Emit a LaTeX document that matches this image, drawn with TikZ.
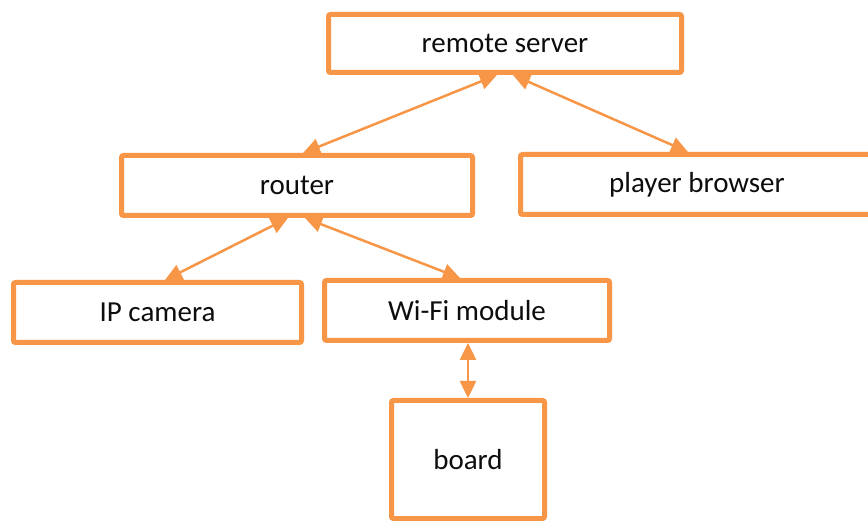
\documentclass[tikz,border=0pt]{standalone}
\usepackage{fontspec}
\setmainfont{Carlito}
\usetikzlibrary{arrows.meta,calc}
\definecolor{boxorange}{HTML}{F79646}
\definecolor{labelblack}{HTML}{0D0D0D}
\tikzset{
  unitbox/.style={draw=boxorange, line width=5pt, rounded corners=2pt, fill=white,
    inner sep=0pt, outer sep=2.5pt, text=labelblack, font=\fontsize{29}{33}\selectfont},
  link/.style={draw=boxorange, line width=2.5pt,
    {Triangle[length=17pt,width=16pt]}-{Triangle[length=17pt,width=16pt]}}
}
\begin{document}
\begin{tikzpicture}[x=1pt,y=-1pt]
  \useasboundingbox (0,0) rectangle (868,521);
  \clip (0,0) rectangle (868,521);
  \fill[white] (0,0) rectangle (868,521);

  % components of the streaming setup
  \node[unitbox, minimum width=353pt, minimum height=58pt] (server)  at (505,43.5)  {remote server};
  \node[unitbox, minimum width=351pt, minimum height=60pt] (router)  at (297,185.5) {router};
  \node[unitbox, minimum width=353pt, minimum height=60pt] (browser) at (697,184.5) {player browser};
  \node[unitbox, minimum width=288pt, minimum height=60pt] (camera)  at (157.5,312.5) {IP camera};
  \node[unitbox, minimum width=285pt, minimum height=60pt] (wifi)    at (467,310.5) {Wi-Fi module};
  \node[unitbox, minimum width=153pt, minimum height=118pt] (board)  at (468,459.5) {board};

  % two-way links
  \draw[link] ($(server.south)+(-8,0)$) -- ($(router.north)+(6,0)$);
  \draw[link] ($(server.south)+(8,0)$)  -- ($(browser.north)+(-9,0)$);
  \draw[link] ($(router.south)+(-9,0)$) -- ($(camera.north)+(7.5,0)$);
  \draw[link] ($(router.south)+(8,0)$)  -- ($(wifi.north)+(-7,0)$);
  \draw[link] ($(wifi.south)+(1,0)$)    -- ($(board.north)+(0,0)$);
\end{tikzpicture}
\end{document}
